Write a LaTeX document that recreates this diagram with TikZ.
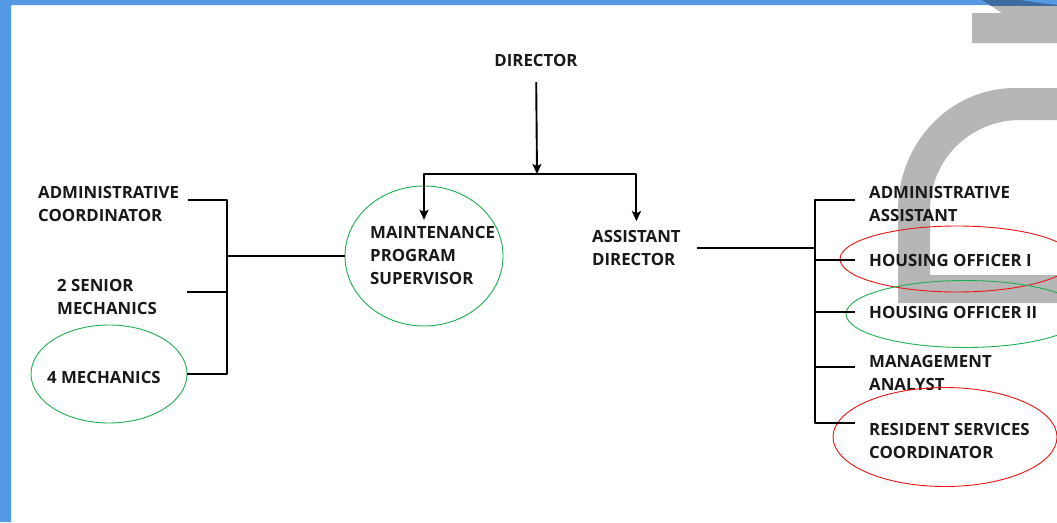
\documentclass[tikz,border=0pt]{standalone}
\usepackage{fontspec}
\setmainfont{Open Sans}
\usetikzlibrary{shapes.geometric,calc,arrows.meta}
\definecolor{frameblue}{RGB}{85,153,226}
\definecolor{wmgrey}{RGB}{182,182,182}
\definecolor{wmdark}{RGB}{62,108,160}
\definecolor{ringgreen}{RGB}{30,175,80}
\definecolor{ringred}{RGB}{235,20,20}
\tikzset{
  lbl/.style={font=\fontsize{16.8}{23}\selectfont\bfseries, align=left, inner sep=0pt, text=black!90},
  ring/.style={draw=#1, ellipse, inner sep=0pt, line width=0.9pt},
  link/.style={line width=1.9pt},
}
\begin{document}
\begin{tikzpicture}[x=1pt, y=-1pt, >={Stealth[length=10pt,width=9pt,inset=2pt]}, line join=round]
 \useasboundingbox (0,0) rectangle (1057,522);
 \clip (0,0) rectangle (1057,522);
 \fill[white] (0,0) rectangle (1057,522);
 % watermark
 \fill[wmgrey] (982,0) -- (1002,13) -- (972,13) -- (972,43) -- (1057,43) -- (1057,5) .. controls (1040,3) .. (1020,0) -- cycle;
 \fill[wmgrey, even odd rule] (898,303) -- (898,210) .. controls (898,143) and (950,88) .. (1015,88) -- (1057,88) -- (1057,303) -- cycle
   (930,275) -- (930,210) .. controls (930,160) and (970,120) .. (1020,120) -- (1057,120) -- (1057,275) -- cycle;
 % frame
 \fill[frameblue] (0,0) rectangle (11,522) (0,0) rectangle (1057,5);
 \begin{scope}
  \clip (0,0) rectangle (1057,5);
  \fill[wmdark] (982,0) -- (1002,13) -- (1057,13) -- (1057,5) .. controls (1040,3) .. (1020,0) -- cycle;
 \end{scope}
 % nodes
 \node[lbl, outer ysep=16pt] (dir) at (536,60) {DIRECTOR};
 \node[lbl, anchor=west, outer ysep=6pt] (mps) at (370,255) {MAINTENANCE\\PROGRAM\\SUPERVISOR};
 \node[lbl, anchor=west] (ad) at (592,248) {ASSISTANT\\DIRECTOR};
 \node[lbl, anchor=west] (adco) at (38,204) {ADMINISTRATIVE\\COORDINATOR};
 \node[lbl, anchor=west] (sm) at (57,297) {2 SENIOR\\MECHANICS};
 \node[lbl, anchor=west] (mech) at (47,377) {4 MECHANICS};
 \node[lbl, anchor=west] (aa) at (869,204) {ADMINISTRATIVE\\ASSISTANT};
 \node[lbl, anchor=west] (ho1) at (869,260) {HOUSING OFFICER I};
 \node[lbl, anchor=west] (ho2) at (869,312) {HOUSING OFFICER II};
 \node[lbl, anchor=west] (ma) at (869,373) {MANAGEMENT\\ANALYST};
 \node[lbl, anchor=west] (rsc) at (869,441) {RESIDENT SERVICES\\COORDINATOR};
 % rings
 \node[ring=ringgreen, minimum width=158, minimum height=140] (mpsc) at (424,256) {};
 \node[ring=ringgreen, minimum width=156, minimum height=98] (mechc) at (109,374) {};
 \node[ring=ringred, minimum width=234, minimum height=66] (ho1c) at (957,259) {};
 \node[ring=ringgreen, minimum width=238, minimum height=67] (ho2c) at (965,314) {};
 \node[ring=ringred, minimum width=224, minimum height=99] (rscc) at (945,437) {};
 % links
 \coordinate (tj) at (537,174);
 \coordinate (lj) at (227,256);
 \coordinate (rj) at (815,247);
 \draw[link,->] (dir) -- (tj);
 \draw[link,->] (tj) -| (mpsc |- mps.north);
 \draw[link,->] (tj) -| ($(ad.north)+(0,-9)$);
 \draw[link] ($(adco.east)+(9,-4)$) -| (lj |- mechc.east) -- (mechc.east);
 \draw[link] ($(sm.east -| mechc.east)+(0,-5)$) -- ($(sm.east -| lj)+(0,-5)$);
 \draw[link] (lj) -- (mpsc.west);
 \draw[link] ($(ad.east)+(16,0)$) -- (ad.east -| rj);
 \draw[link] ($(aa.west)+(-14,-4)$) -- ($(aa.west)+(-54,-4)$) |- ($(rsc.west)+(-14,-18)$);
 \foreach \n/\d in {ho1/0, ho2/0, ma/-6}
  \draw[link] ($(\n.west)+(-54,\d)$) -- ($(\n.west)+(-14,\d)$);
\end{tikzpicture}
\end{document}
